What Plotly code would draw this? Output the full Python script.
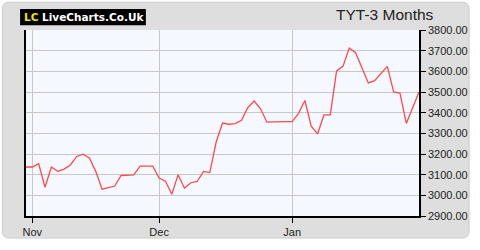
import plotly.graph_objects as go

prices = [3137, 3137, 3153, 3039, 3137, 3116, 3127, 3147, 3188, 3199,
          3181, 3116, 3030, 3037, 3045, 3096, 3097, 3099, 3141, 3141,
          3141, 3084, 3068, 3005, 3100, 3034, 3061, 3067, 3116, 3110,
          3258, 3350, 3344, 3347, 3363, 3425, 3456, 3419, 3354, 3355,
          3357, 3357, 3357, 3397, 3459, 3335, 3297, 3389, 3389, 3602,
          3624, 3713, 3690, 3621, 3544, 3555, 3587, 3624, 3500, 3495,
          3348, 3420, 3500]
idx = list(range(len(prices)))
month_pos = [1, 21, 42]
month_labels = ["Nov", "Dec", "Jan"]
y_ticks = [2900, 3000, 3100, 3200, 3300, 3400, 3500, 3600, 3700, 3800]
y_labels = [f"{v:.2f}" for v in y_ticks]
title_text = "TYT-3 Months"

# pixel geometry helpers (plot area: x 26..426, y 30..224)
L, R, T, B = 26, 54, 30, 26
PW, PH = 480 - L - R, 250 - T - B


def px(x):
    return (x - L) / PW


def py(y):
    return (250 - B - y) / PH


def rounded(x0, y0, x1, y1, r):
    X0, X1, Y0, Y1 = px(x0), px(x1), py(y1), py(y0)
    rx, ry = r / PW, r / PH
    return (f"M {X0+rx} {Y0} L {X1-rx} {Y0} Q {X1} {Y0} {X1} {Y0+ry} "
            f"L {X1} {Y1-ry} Q {X1} {Y1} {X1-rx} {Y1} "
            f"L {X0+rx} {Y1} Q {X0} {Y1} {X0} {Y1-ry} "
            f"L {X0} {Y0+ry} Q {X0} {Y0} {X0+rx} {Y0} Z")


fig = go.Figure()
fig.add_trace(go.Scatter(x=idx, y=prices, mode="lines",
                         line=dict(color="#ff4a4a", width=1.3),
                         hoverinfo="skip", showlegend=False))

font = "Liberation Sans, Arial, sans-serif"
fig.update_layout(
    width=480, height=250,
    margin=dict(l=L, r=R, t=T, b=B),
    paper_bgcolor="white",
    plot_bgcolor="#f6f8ff",
    font=dict(family=font, size=11, color="#222222"),
    xaxis=dict(range=[0, len(prices) - 1], tickmode="array",
               tickvals=month_pos, ticktext=month_labels,
               showgrid=True, gridcolor="#c8c8c8", gridwidth=1,
               ticks="outside", ticklen=5, tickcolor="black",
               showline=True, linecolor="black", linewidth=1.5,
               zeroline=False, tickfont=dict(size=11, color="#222")),
    yaxis=dict(range=[2900, 3800], side="right", tickmode="array",
               tickvals=y_ticks, ticktext=y_labels,
               showgrid=True, gridcolor="#c8c8c8", gridwidth=1,
               ticks="outside", ticklen=5, tickcolor="black",
               showline=True, linecolor="black", linewidth=1.5,
               mirror=True, zeroline=False,
               tickfont=dict(size=11, color="#222")),
    shapes=[
        dict(type="path", xref="paper", yref="paper", layer="below",
             path=rounded(2, 1, 477, 247, 7),
             line=dict(color="#cccccc", width=1), fillcolor="#dedede"),
        dict(type="rect", xref="paper", yref="paper", layer="below",
             x0=0, x1=1, y0=0, y1=1,
             line=dict(width=0), fillcolor="#f6f8ff"),
        dict(type="rect", xref="paper", yref="paper", layer="below",
             x0=px(20), x1=px(148), y0=py(25), y1=py(8),
             line=dict(width=0), fillcolor="black"),
    ],
    annotations=[
        dict(xref="paper", yref="paper", x=px(22), y=py(16.5),
             xanchor="left", yanchor="middle", showarrow=False,
             text="<b><span style='color:#f2e600'>LC</span> LiveCharts.Co.Uk</b>",
             font=dict(family="DejaVu Sans, sans-serif", size=10.5, color="white")),
        dict(xref="paper", yref="paper", x=px(443), y=py(25),
             xanchor="right", yanchor="bottom", showarrow=False,
             text=title_text,
             font=dict(family=font, size=15.5, color="#222222")),
    ],
)
fig.write_html("out.html")
